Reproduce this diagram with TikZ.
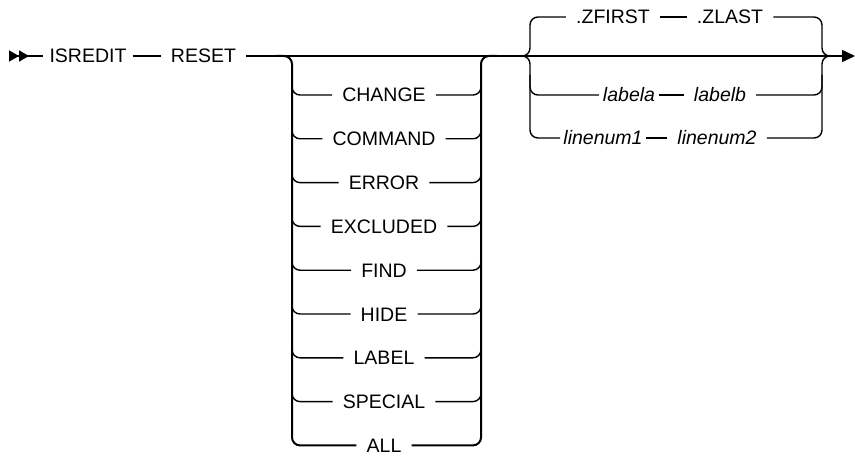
\documentclass[tikz,border=0pt]{standalone}
\usepackage{fontspec}
\setmainfont{Liberation Sans}
\usetikzlibrary{arrows.meta,positioning,calc}

\begin{document}
\begin{tikzpicture}[
  x=1pt, y=-1pt, node distance=29.4pt,
  rail/.style={line width=1.4pt, rounded corners=8pt},
  trunk/.style={rail, line width=2pt},
  kw/.style={inner xsep=10pt, inner ysep=0pt, text height=14pt, text depth=0pt,
             font=\fontsize{19.5}{22}\selectfont},
  var/.style={kw, font=\fontsize{19.5}{22}\selectfont\itshape}]
\useasboundingbox (0,0) rectangle (856,454);

% main line
\coordinate (start) at (9,56);
\node[kw, inner xsep=6pt] (isredit) at (88,56) {ISREDIT};
\node[kw] (reset) at (203.5,56) {RESET};
\coordinate (tip) at (855,56);

% rails of the two choice groups
\coordinate (lrail) at (292,0);
\coordinate (rrail) at (481,0);
\coordinate (lsplit) at (276,56);
\coordinate (rjoin) at (497,56);
\coordinate (lrailb) at (530,0);
\coordinate (rrailb) at (822,0);
\coordinate (lsplitb) at (514,56);
\coordinate (rjoinb) at (838,56);

% RESET keywords
\node[kw] (change) at (384,95) {CHANGE};
\node[kw, below=of change] (command) {COMMAND};
\node[kw, below=of command] (error) {ERROR};
\node[kw, below=of error] (excluded) {EXCLUDED};
\node[kw, below=of excluded] (find) {FIND};
\node[kw, below=of find] (hide) {HIDE};
\node[kw, below=of hide] (label) {LABEL};
\node[kw, below=of label] (special) {SPECIAL};
\node[kw, below=of special] (all) {ALL};

% range operands
\node[kw] (zfirst) at (613,17) {.ZFIRST};
\node[kw] (zlast) at (730,17) {.ZLAST};
\node[var, inner xsep=4pt] (labela) at (629,95) {labela};
\node[var] (labelb) at (720,95) {labelb};
\node[var, inner xsep=3pt] (linenuma) at (603,138) {linenum1};
\node[var] (linenumb) at (717,138) {linenum2};

\draw[rail, {Triangle[reversed,length=10pt,width=11pt]Triangle[reversed,length=10pt,width=11pt]}-]
  (start) -- (isredit.west);
\draw[rail] (isredit) -- (reset);
\draw[rail, -{Triangle[length=13pt,width=12pt]}] (reset.east) -- (tip);

% first group
\draw[trunk] (lsplit) -| (all.west -| lrail) -- (all.west);
\draw[trunk] (all.east) -| (rjoin -| rrail) -- (rjoin);
\foreach \k in {change,command,error,excluded,find,hide,label,special}{
  \draw[rail] ($(\k.west -| lrail)+(0,-20)$) |- (\k.west);
  \draw[rail] (\k.east) -| ($(\k.east -| rrail)+(0,-20)$);
}

% second group
\draw[rail] (lsplitb) -| (zfirst.west -| lrailb) -- (zfirst.west);
\draw[rail] (lsplitb) -| (linenuma.west -| lrailb) -- (linenuma.west);
\draw[rail] ($(labela.west -| lrailb)+(0,-20)$) |- (labela.west);
\draw[rail] (zfirst) -- (zlast);
\draw[rail] (labela) -- (labelb);
\draw[rail] (linenuma) -- (linenumb);
\draw[rail] (zlast.east) -| (rjoinb -| rrailb) -- (rjoinb);
\draw[rail] (linenumb.east) -| (rjoinb -| rrailb) -- (rjoinb);
\draw[rail] (labelb.east) -| ($(labelb.east -| rrailb)+(0,-20)$);
\end{tikzpicture}
\end{document}
